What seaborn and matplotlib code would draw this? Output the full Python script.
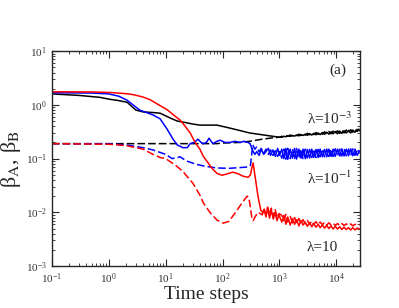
import matplotlib
matplotlib.use("Agg")
import matplotlib.pyplot as plt
import seaborn as sns

# shared time steps for the noisy long-time tails
t_tail = [1100, 1200, 1300, 1400, 1550, 1700, 1850, 2000, 2200, 2400, 2600, 2850,
          3100, 3400, 3700, 4000, 4400, 4800, 5200, 5700, 6200, 6800, 7400, 8100,
          8800, 9600, 10500, 11500, 12500, 13700, 15000, 16400, 17900, 19500,
          21300, 23300, 25500]

# lambda = 1e-3 (black)
black_solid_t = [0.1, 0.3, 0.7, 1, 1.5, 2.1, 2.5, 3, 4, 6, 8, 12, 16, 20, 30, 40,
                 80, 150, 300, 600, 1000] + t_tail
black_solid_y = [1.6, 1.5, 1.38, 1.28, 1.2, 1.12, 0.95, 0.8, 0.74, 0.72, 0.7, 0.57,
                 0.5, 0.48, 0.44, 0.42, 0.42, 0.36, 0.30, 0.27, 0.25,
                 0.25, 0.26, 0.255, 0.265, 0.26, 0.27, 0.262, 0.275, 0.265, 0.28,
                 0.27, 0.285, 0.272, 0.29, 0.275, 0.295, 0.278, 0.30, 0.28, 0.305,
                 0.283, 0.31, 0.285, 0.315, 0.29, 0.32, 0.29, 0.325, 0.295, 0.33,
                 0.30, 0.335, 0.30, 0.34, 0.31, 0.35, 0.33]
black_dash_t = [0.1, 1, 10, 40, 80, 100, 200, 300, 500, 800, 1000] + t_tail
black_dash_y = [0.19, 0.19, 0.19, 0.19, 0.19, 0.195, 0.2, 0.21, 0.23, 0.245, 0.25,
                0.26, 0.255, 0.27, 0.26, 0.275, 0.265, 0.28, 0.268, 0.285, 0.27,
                0.29, 0.275, 0.295, 0.278, 0.30, 0.28, 0.305, 0.283, 0.31, 0.285,
                0.315, 0.288, 0.32, 0.29, 0.325, 0.292, 0.33, 0.295, 0.335, 0.30,
                0.34, 0.302, 0.345, 0.31, 0.35, 0.32, 0.36]

# lambda = 1e-1 (blue)
blue_mid_t = [340, 370, 400, 440, 480, 530, 580, 640, 700, 770, 850, 930, 1010]
blue_solid_t = [0.1, 0.5, 1.0, 1.5, 2.1, 3.5, 6, 8, 10.5, 13.5, 16, 20, 24, 27, 32,
                37, 42, 46, 52, 58, 63, 68, 80, 91, 110, 135, 165, 204, 240, 280,
                305] + blue_mid_t + t_tail
blue_solid_y = [1.68, 1.66, 1.6, 1.45, 1.22, 0.8, 0.65, 0.55, 0.36, 0.23, 0.18,
                0.16, 0.16, 0.19, 0.2, 0.23, 0.2, 0.19, 0.2, 0.24, 0.21, 0.19, 0.21,
                0.22, 0.2, 0.2, 0.21, 0.2, 0.21, 0.2, 0.19,
                0.14, 0.12, 0.135, 0.115, 0.15, 0.12, 0.135, 0.155, 0.115, 0.145,
                0.11, 0.155, 0.115,
                0.15, 0.1, 0.155, 0.097, 0.15, 0.102, 0.155, 0.098, 0.15, 0.102,
                0.15, 0.1, 0.148, 0.103, 0.15, 0.105, 0.148, 0.105, 0.15, 0.108,
                0.148, 0.108, 0.15, 0.11, 0.15, 0.11, 0.15, 0.112, 0.152, 0.112,
                0.15, 0.113, 0.152, 0.113, 0.15, 0.115, 0.14]
blue_dash_t = [0.1, 1, 2, 4, 6, 10, 13, 16, 18, 20, 25, 35, 50, 80, 130, 200, 280,
               310] + blue_mid_t + t_tail
blue_dash_y = [0.19, 0.188, 0.18, 0.16, 0.145, 0.12, 0.1, 0.105, 0.108, 0.1,
               0.088, 0.078, 0.072, 0.067, 0.066, 0.068, 0.07, 0.075,
               0.18, 0.15, 0.165, 0.135, 0.155, 0.125, 0.15, 0.12, 0.145, 0.115,
               0.14, 0.11, 0.135,
               0.102, 0.15, 0.098, 0.155, 0.1, 0.15, 0.097, 0.155, 0.102, 0.15,
               0.1, 0.15, 0.103, 0.148, 0.105, 0.15, 0.105, 0.148, 0.108, 0.15,
               0.108, 0.15, 0.11, 0.15, 0.11, 0.152, 0.112, 0.15, 0.112, 0.152,
               0.113, 0.15, 0.113, 0.152, 0.115, 0.15, 0.125]

# lambda = 10 (red)
red_mid_t = [540, 580, 620, 670, 720, 780, 840, 910, 980]
red_solid_t = [0.1, 0.5, 1.05, 2, 2.7, 4, 5.3, 7, 10.5, 14, 18, 22, 27, 33, 40, 46,
               55, 66, 80, 98, 120, 153, 190, 230, 282, 310, 330, 345, 370, 420,
               470, 510] + red_mid_t + t_tail
red_solid_y = [1.75, 1.74, 1.7, 1.62, 1.55, 1.4, 1.25, 1.05, 0.82, 0.64, 0.52, 0.4,
               0.3, 0.2, 0.15, 0.11, 0.085, 0.065, 0.053, 0.049, 0.052, 0.056,
               0.052, 0.047, 0.045, 0.05, 0.07, 0.083, 0.05, 0.02, 0.011, 0.01,
               0.0115, 0.0082, 0.012, 0.0078, 0.011, 0.0075, 0.0098, 0.007, 0.009,
               0.0066, 0.0088, 0.006, 0.0082, 0.0058, 0.0076, 0.006, 0.0073,
               0.0056, 0.007, 0.0058, 0.0066, 0.0055, 0.0064, 0.0054, 0.0062,
               0.0053, 0.006, 0.0052, 0.0058, 0.0051, 0.0057, 0.005, 0.0056,
               0.0049, 0.0055, 0.0049, 0.0054, 0.0048, 0.0053, 0.0048, 0.0052,
               0.0047, 0.0052, 0.0047, 0.0051, 0.0049]
red_dash_t = [0.1, 1, 2, 4, 6, 8, 10, 15, 20, 30, 40, 46, 60, 80, 103, 130, 180,
              230, 270, 290, 310, 330, 345, 380, 420, 460, 500] + red_mid_t + t_tail
red_dash_y = [0.19, 0.185, 0.175, 0.15, 0.12, 0.105, 0.1, 0.075, 0.058, 0.035,
              0.021, 0.015, 0.01, 0.0072, 0.0063, 0.0068, 0.011, 0.016, 0.02,
              0.019, 0.012, 0.0075, 0.007, 0.0085, 0.01, 0.0095, 0.009,
              0.0115, 0.009, 0.0125, 0.0092, 0.012, 0.0085, 0.0115, 0.008, 0.0095,
              0.0088, 0.007, 0.0092, 0.0066, 0.0084, 0.0064, 0.008, 0.0062,
              0.0077, 0.0062, 0.0073, 0.0061, 0.0071, 0.006, 0.0069, 0.006,
              0.0067, 0.0059, 0.0066, 0.0059, 0.0065, 0.0058, 0.0064, 0.0058,
              0.0063, 0.0057, 0.0062, 0.0057, 0.0062, 0.0057, 0.0061, 0.0057,
              0.0061, 0.0056, 0.006, 0.0057, 0.0059]

sns.set_style("ticks")
plt.rcParams["font.family"] = ["Liberation Serif", "DejaVu Serif"]
plt.rcParams["mathtext.fontset"] = "stix"

fig = plt.figure(figsize=(3.99, 3.08), dpi=100)
ax = fig.add_axes([0.130, 0.136, 0.772, 0.698])

curves = [
    (black_solid_t, black_solid_y, "black", False),
    (black_dash_t, black_dash_y, "black", True),
    (blue_solid_t, blue_solid_y, "#0000ff", False),
    (blue_dash_t, blue_dash_y, "#0000ff", True),
    (red_solid_t, red_solid_y, "#ff0000", False),
    (red_dash_t, red_dash_y, "#ff0000", True),
]
for t, y, c, dashed in curves:
    sns.lineplot(x=t, y=y, color=c, lw=1.1, sort=False, estimator=None, ax=ax)
    if dashed:
        ax.lines[-1].set_dashes((5, 2))

ax.set_xscale("log")
ax.set_yscale("log")
ax.set_xlim(0.1, 26000)
ax.set_ylim(1e-3, 10)

ax.tick_params(which="both", direction="in", top=True, right=True,
               labelsize=8, labelcolor="#333333")
ax.tick_params(which="major", length=5, width=0.8)
ax.tick_params(which="minor", length=2.5, width=0.6)
for s in ax.spines.values():
    s.set_linewidth(1.0)

ax.set_xlabel("Time steps", fontsize=14, labelpad=0)
ax.set_ylabel(r"β$_{\mathrm{A}}$, β$_{\mathrm{B}}$", fontsize=16, labelpad=2)

ax.text(0.828, 0.688, r"λ=10$^{-3}$", transform=ax.transAxes,
        fontsize=11, va="center", ha="left")
ax.text(0.828, 0.409, r"λ=10$^{-1}$", transform=ax.transAxes,
        fontsize=11, va="center", ha="left")
ax.text(0.828, 0.088, "λ=10", transform=ax.transAxes,
        fontsize=11, va="center", ha="left")
ax.text(0.929, 0.912, "(a)", transform=ax.transAxes, fontsize=11,
        va="center", ha="center")

fig.savefig("out.png", dpi=100)
